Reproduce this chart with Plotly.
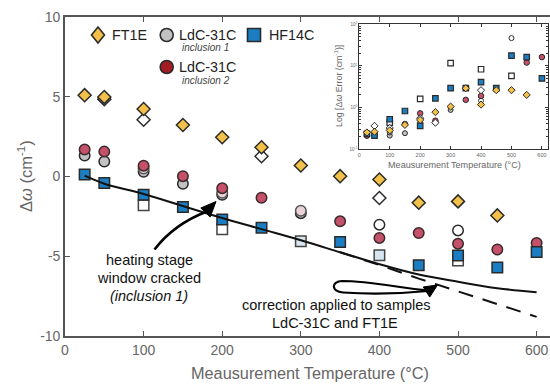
import plotly.graph_objects as go

# ---------------- data (main panel) ----------------
temps = [25, 50, 100, 150, 200, 250, 300, 350, 400, 450, 500, 550, 600]
y_ticks = [-10, -5, 0, 5, 10]
y_ticklabels = ["-10", "-5", "0", "5", "10"]

ft1e_T = [25, 50, 100, 150, 200, 250, 300, 350, 400, 450, 500, 550]
ft1e_v = [5.1, 4.98, 4.23, 3.23, 2.46, 1.83, 0.69, 0.02, -0.19, -1.64, -1.56, -2.44]
ft1e_open_T = [50, 100, 250, 400]
ft1e_open_v = [4.85, 3.56, 1.27, -1.35]

inc1_T = [25, 50, 100, 150, 200, 300]
inc1_v = [1.31, 0.94, 0.30, -0.46, -1.15, -2.3]
inc_faded_T = [100, 200, 300]
inc_faded_v = [0.5, -1.02, -2.15]
inc_open_T = [400, 500]
inc_open_v = [-3.02, -3.38]

inc2_T = [25, 50, 100, 150, 200, 250, 350, 400, 450, 500, 550, 600]
inc2_v = [1.69, 1.56, 0.68, 0.02, -0.73, -1.33, -2.81, -3.85, -3.54, -4.21, -4.58, -4.17]

hf_T = [25, 50, 100, 150, 200, 250, 350, 450, 500, 550, 600]
hf_v = [0.12, -0.4, -1.15, -1.92, -2.69, -3.21, -4.1, -5.56, -4.95, -5.71, -4.73]
hf_faded_T = [300, 400]
hf_faded_v = [-4.06, -4.94]
hf_open_T = [100, 200, 500]
hf_open_v = [-1.81, -3.31, -5.27]

fit_T = temps
fit_v = [0.05, -0.45, -1.1, -1.85, -2.6, -3.3, -4.0, -4.75, -5.5, -6.15, -6.6, -7.0, -7.25]
lin_T = [350, 400, 450, 500, 550, 600]
lin_v = [-4.75, -5.55, -6.4, -7.2, -8.0, -8.8]

# ---------------- data (inset, log error) ----------------
e_ft1e_T = [25, 50, 100, 150, 200, 250, 300, 350, 400, 450, 500, 550]
e_ft1e_v = [0.25, 0.26, 0.28, 0.38, 0.50, 0.77, 1.05, 2.9, 1.17, 2.6, 2.6, 2.0]
e_ft1e_open_T = [50, 100, 200, 250, 400]
e_ft1e_open_v = [0.36, 0.32, 0.55, 0.43, 2.6]
e_inc1_T = [25, 50, 100, 100, 150, 200, 250, 300]
e_inc1_v = [0.21, 0.22, 0.21, 0.25, 0.24, 0.43, 0.45, 0.87]
e_inc_open_T = [100, 400, 500]
e_inc_open_v = [0.30, 1.46, 46.5]
e_inc2_T = [25, 50, 150, 200, 250, 350, 400, 550, 600]
e_inc2_v = [0.21, 0.21, 0.40, 0.72, 0.48, 1.52, 1.89, 12.0, 16.3]
e_hf_T = [25, 50, 100, 150, 200, 250, 300, 350, 400, 450, 500, 550, 600]
e_hf_v = [0.23, 0.21, 0.52, 0.82, 0.36, 1.66, 2.9, 2.9, 4.05, 2.9, 17.7, 16.3, 5.0]
e_hf_open_T = [100, 200, 300, 400, 500]
e_hf_open_v = [0.43, 1.6, 11.6, 8.3, 5.75]

# ---------------- style ----------------
YEL = "#f3c14a"
BLUE = "#1c7ec2"
GRAY = "#c2c2c2"
RED_LEG = "#a51d24"
RED = "#c4506a"
EDGE = "#2a2a2a"
AX = "#555555"
TXT = "#666666"
FONT = "Liberation Sans, Arial, Helvetica, sans-serif"

W, H = 550, 385
L, R, T, B = 65, 0, 17, 49
PW, PH = W - L - R, H - T - B
XMAX = 617.0
YMIN, YMAX = -10, 10


def pxp(px, py):
    """pixel -> paper coordinates"""
    return (px - L) / PW, (H - B - py) / PH


def pxd(px, py):
    """pixel -> data coordinates of the main axes"""
    return (px - L) / PW * XMAX, YMAX - (py - T) / PH * (YMAX - YMIN)


fig = go.Figure()


def sc(x, y, symbol, fill, size, lw=1.5, edge=EDGE, xa="x", ya="y", op=1.0):
    fig.add_trace(go.Scatter(
        x=x, y=y, mode="markers", xaxis=xa, yaxis=ya, showlegend=False,
        hoverinfo="skip", opacity=op,
        marker=dict(symbol=symbol, color=fill, size=size,
                    line=dict(color=edge, width=lw))))


# main panel markers
sc(inc1_T, inc1_v, "circle", GRAY, 10.5)
sc(inc_faded_T, inc_faded_v, "circle", "#ead3d7", 10.5, edge="#555")
sc(inc_open_T, inc_open_v, "circle", "white", 10.5)
sc(inc2_T, inc2_v, "circle", RED, 10.5, edge="#3a2a2a")
sc(ft1e_open_T, ft1e_open_v, "diamond", "white", 10)
sc(ft1e_T, ft1e_v, "diamond", YEL, 10)
sc(hf_open_T, hf_open_v, "square", "white", 10.5, edge="#444")
sc(hf_T, hf_v, "square", BLUE, 10.5)
sc(hf_faded_T, hf_faded_v, "square", "#d6e6f1", 10.5, edge="#444")

# fitted lines
fig.add_trace(go.Scatter(x=lin_T, y=lin_v, mode="lines", showlegend=False, hoverinfo="skip",
                         line=dict(color="#111", width=2, dash="15px,10px")))
fig.add_trace(go.Scatter(x=fit_T, y=fit_v, mode="lines", showlegend=False, hoverinfo="skip",
                         line=dict(color="#111", width=2, shape="spline")))

# inset markers
IA = dict(xa="x2", ya="y2")
sc(e_inc1_T, e_inc1_v, "circle", GRAY, 5, lw=1, **IA)
sc(e_inc_open_T, e_inc_open_v, "circle", "white", 5, lw=1, **IA)
sc(e_inc2_T, e_inc2_v, "circle", RED, 5.5, lw=1, **IA)
sc(e_hf_open_T, e_hf_open_v, "square", "white", 5.5, lw=1.2, **IA)
sc(e_hf_T, e_hf_v, "square", BLUE, 5.5, lw=1.2, **IA)
sc(e_ft1e_open_T, e_ft1e_open_v, "diamond", "white", 5.5, lw=1, **IA)
sc(e_ft1e_T, e_ft1e_v, "diamond", YEL, 5.5, lw=1, **IA)

shapes = []
annots = []

# ---- legend symbols (paper coords) ----
def diamond_path(cx, cy, hw, hh):
    pts = [(cx, cy - hh), (cx + hw, cy), (cx, cy + hh), (cx - hw, cy)]
    pp = [pxp(*p) for p in pts]
    return "M " + " L ".join(f"{a:.5f},{b:.5f}" for a, b in pp) + " Z"


shapes.append(dict(type="path", xref="paper", yref="paper", path=diamond_path(98, 35, 6.5, 8),
                   fillcolor=YEL, line=dict(color=EDGE, width=1.6)))
for (cx, cy, col) in [(166.7, 35, GRAY), (166.7, 67, RED_LEG)]:
    x0, y0 = pxp(cx - 6.5, cy + 6.5)
    x1, y1 = pxp(cx + 6.5, cy - 6.5)
    shapes.append(dict(type="circle", xref="paper", yref="paper", x0=x0, y0=y0, x1=x1, y1=y1,
                       fillcolor=col, line=dict(color=EDGE, width=1.6)))
x0, y0 = pxp(254 - 6.5, 35 + 6.5)
x1, y1 = pxp(254 + 6.5, 35 - 6.5)
shapes.append(dict(type="rect", xref="paper", yref="paper", x0=x0, y0=y0, x1=x1, y1=y1,
                   fillcolor=BLUE, line=dict(color=EDGE, width=1.6)))


def ann(text, px, py, size, color="#222", xanchor="center", italic=False, angle=0):
    x, y = pxp(px, py)
    annots.append(dict(text=f"<i>{text}</i>" if italic else text, x=x, y=y, xref="paper", yref="paper",
                       showarrow=False, xanchor=xanchor, yanchor="middle", textangle=angle,
                       font=dict(family=FONT, size=size, color=color)))


ann("FT1E", 110, 35, 14.3, xanchor="left")
ann("LdC-31C", 176.5, 35, 14.3, xanchor="left")
ann("inclusion 1", 205.5, 47.5, 10, color="#444", italic=True)
ann("HF14C", 266.5, 35, 14.3, xanchor="left")
ann("LdC-31C", 176.5, 67, 14.3, xanchor="left")
ann("inclusion 2", 205.5, 80.5, 10, color="#444", italic=True)

ann("heating stage", 149, 260, 14.5, color="#111")
ann("window cracked", 149, 278, 14.5, color="#111")
ann("(inclusion 1)", 149, 295.5, 14.5, color="#111", italic=True)
ann("correction applied to samples", 336, 305, 14.5, color="#111")
ann("LdC-31C and FT1E", 335, 323, 14.5, color="#111")

# axis titles
ann("Meausurement Temperature (°C)", 310, 373, 16.3, color=TXT)
ann("Δ<i>ω</i> (cm<sup>-1</sup>)", 25, 176, 16.5, color=TXT, angle=-90)
ann("Meausurement Temperature (°C)", 454.5, 165, 9.1, color=TXT)
ann("Log [Δ<i>ω</i> Error (cm<sup>-1</sup>)]", 338, 86, 8.8, color=TXT, angle=-90)


# ---- arrows (drawn in data coords of main axes) ----
def path_d(cmds):
    out = []
    for c in cmds:
        if isinstance(c, str):
            out.append(c)
        else:
            x, y = pxd(*c)
            out.append(f"{x:.3f},{y:.3f}")
    return " ".join(out)


def head(tip, base_c, half):
    tx, ty = tip
    bx, by = base_c
    dx, dy = tx - bx, ty - by
    n = (dx * dx + dy * dy) ** 0.5
    nx, ny = -dy / n, dx / n
    p1 = (bx + nx * half, by + ny * half)
    p2 = (bx - nx * half, by - ny * half)
    return path_d(["M", tip, "L", p1, "L", p2, "Z"])


shapes.append(dict(type="path", xref="x", yref="y",
                   path=path_d(["M", (154.5, 249.5), "Q", (174, 224), (207, 211.5)]),
                   line=dict(color="#000", width=2.6)))
shapes.append(dict(type="path", xref="x", yref="y", path=head((216, 201.5), (205.5, 212.5), 6.5),
                   fillcolor="#000", line=dict(color="#000", width=1)))

shapes.append(dict(type="path", xref="x", yref="y",
                   path=path_d(["M", (428, 290.5), "C", (400, 288), (370, 281), (342, 281),
                                "C", (331, 281.5), (331, 291.5), (343, 292.5),
                                "C", (372, 294.5), (402, 293.5), (428, 291)]),
                   line=dict(color="#000", width=2.2)))
shapes.append(dict(type="path", xref="x", yref="y", path=head((437.5, 285), (426.5, 292), 6),
                   fillcolor="#000", line=dict(color="#000", width=1)))

fig.update_layout(
    width=W, height=H, margin=dict(l=L, r=R, t=T, b=B, autoexpand=False),
    paper_bgcolor="white", plot_bgcolor="white",
    font=dict(family=FONT, color=TXT),
    shapes=shapes, annotations=annots, showlegend=False,
    xaxis=dict(range=[0, XMAX], tickvals=[0, 100, 200, 300, 400, 500, 600],
               ticks="inside", ticklen=5, tickwidth=1.3, tickcolor=AX,
               showline=True, linecolor=AX, linewidth=1.6, mirror="ticks",
               showgrid=False, zeroline=False, tickfont=dict(size=14, color=TXT, family=FONT)),
    yaxis=dict(range=[YMIN, YMAX], tickvals=y_ticks, ticktext=y_ticklabels,
               ticks="inside", ticklen=5, tickwidth=1.3, tickcolor=AX,
               showline=True, linecolor=AX, linewidth=1.6,
               showgrid=False, zeroline=False, tickfont=dict(size=14, color=TXT, family=FONT)),
    xaxis2=dict(domain=[(359.3 - L) / PW, (548 - L) / PW], anchor="y2", range=[0, 620],
                tickvals=[0, 100, 200, 300, 400, 500, 600], ticks="inside", ticklen=3,
                tickcolor="#333", showline=True, linecolor="#333", linewidth=1.2, mirror="ticks",
                showgrid=False, zeroline=False, tickfont=dict(size=5.5, color=TXT, family=FONT)),
    yaxis2=dict(domain=[(H - B - 149) / PH, (H - B - 24.3) / PH], anchor="x2", type="log",
                range=[-1, 2], tickvals=[0.1, 1, 10, 100],
                ticktext=["10<sup>-1</sup>", "10<sup>0</sup>", "10<sup>1</sup>", "10<sup>2</sup>"],
                ticks="inside", ticklen=3, tickcolor="#333", showline=True, linecolor="#333",
                linewidth=1.2, mirror="ticks", showgrid=False, zeroline=False,
                minor=dict(ticks="inside", ticklen=1.8, tickcolor="#333",
                           tickvals=[0.2, 0.3, 0.4, 0.5, 0.6, 0.7, 0.8, 0.9,
                                     2, 3, 4, 5, 6, 7, 8, 9, 20, 30, 40, 50, 60, 70, 80, 90]),
                tickfont=dict(size=4.5, color=TXT, family=FONT)),
)

fig.write_html("out.html", config={"displayModeBar": False},
               post_script="document.body.style.margin='0px';document.body.style.padding='0px';")
